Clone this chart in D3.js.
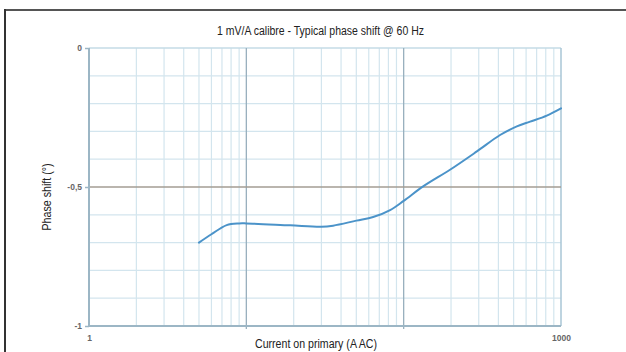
<!DOCTYPE html>
<html>
<head>
<meta charset="utf-8">
<script src="https://cdn.jsdelivr.net/npm/d3@7"></script>
<style>
html,body{margin:0;padding:0;background:#fff;}
svg{display:block;}
</style>
</head>
<body>
<svg id="chart" width="626" height="352"></svg>
<script>
const title = "1 mV/A calibre - Typical phase shift @ 60 Hz";
const xLabel = "Current on primary (A AC)";
const yLabel = "Phase shift (°)";
const current = [5, 6, 7.5, 9, 10, 19, 30, 35.6, 50, 64, 82, 100, 133, 197, 292, 410, 524, 636, 812, 1000];
const phase = [-0.70, -0.67, -0.637, -0.631, -0.631, -0.638, -0.643, -0.639, -0.621, -0.608, -0.583, -0.55, -0.498, -0.438, -0.372, -0.313, -0.282, -0.265, -0.243, -0.217];
const yTickValues = [0, -0.5, -1];
const yTickLabels = ["0", "-0,5", "-1"];
const xTickValues = [1, 1000];
const xTickLabels = ["1", "1000"];

const svg = d3.select("#chart");
const m = {left: 89, right: 561, top: 48, bottom: 326};
const x = d3.scaleLog().domain([1, 1000]).range([m.left, m.right]);
const y = d3.scaleLinear().domain([-1, 0]).range([m.bottom, m.top]);

// outer frame
svg.append("line").attr("x1", 4).attr("x2", 626).attr("y1", 10).attr("y2", 10)
  .attr("stroke", "#555").attr("stroke-width", 2);
svg.append("line").attr("x1", 5).attr("x2", 5).attr("y1", 9).attr("y2", 352)
  .attr("stroke", "#333").attr("stroke-width", 2);

// minor grid
const minorX = [];
for (let d = 1; d < 1000; d *= 10) for (let k = 2; k <= 9; k++) minorX.push(d * k);
const minorY = d3.range(-0.9, 0, 0.1).filter(v => Math.abs(v + 0.5) > 1e-6);
const g = svg.append("g");
g.selectAll(".mx").data(minorX).join("line")
  .attr("x1", d => x(d)).attr("x2", d => x(d)).attr("y1", m.top).attr("y2", m.bottom)
  .attr("stroke", "#d3e5ee").attr("stroke-width", 1.2);
g.selectAll(".my").data(minorY).join("line")
  .attr("x1", m.left).attr("x2", m.right).attr("y1", d => y(d)).attr("y2", d => y(d))
  .attr("stroke", "#d3e5ee").attr("stroke-width", 1.2);
g.append("line").attr("x1", m.left).attr("x2", m.right).attr("y1", y(0)).attr("y2", y(0))
  .attr("stroke", "#c5dbe6").attr("stroke-width", 1.5);
g.append("line").attr("x1", x(1000)).attr("x2", x(1000)).attr("y1", m.top).attr("y2", m.bottom)
  .attr("stroke", "#a9c6d6").attr("stroke-width", 1.5);
// major grid
g.selectAll(".Mx").data([10, 100]).join("line")
  .attr("x1", d => x(d)).attr("x2", d => x(d)).attr("y1", m.top).attr("y2", m.bottom + 3)
  .attr("stroke", "#98afbd").attr("stroke-width", 1.3);
g.append("line").attr("x1", m.left).attr("x2", m.right).attr("y1", y(-0.5)).attr("y2", y(-0.5))
  .attr("stroke", "#a39c93").attr("stroke-width", 1.3);

// axes
g.append("line").attr("x1", m.left).attr("x2", m.left).attr("y1", m.top).attr("y2", m.bottom)
  .attr("stroke", "#9cb6c5").attr("stroke-width", 2);
g.append("line").attr("x1", m.left).attr("x2", m.right).attr("y1", m.bottom).attr("y2", m.bottom)
  .attr("stroke", "#9cb6c5").attr("stroke-width", 2);

// y ticks
const yAxis = d3.axisLeft(y).tickValues(yTickValues).tickSize(4).tickPadding(3)
  .tickFormat((d, i) => yTickLabels[i]);
const ya = svg.append("g").attr("transform", `translate(${m.left},0)`).call(yAxis);
ya.select(".domain").remove();
ya.selectAll(".tick line").attr("stroke", "#9cb6c5").attr("stroke-width", 1.5);
ya.selectAll(".tick text").attr("fill", "#666").attr("font-family", "Liberation Sans, Arial, sans-serif")
  .attr("font-size", 8.5).attr("font-weight", "bold");

// x ticks
const xAxis = d3.axisBottom(x).tickValues(xTickValues).tickSize(0).tickPadding(9)
  .tickFormat((d, i) => xTickLabels[i]);
const xa = svg.append("g").attr("transform", `translate(0,${m.bottom})`).call(xAxis);
xa.select(".domain").remove();
xa.selectAll(".tick text").attr("fill", "#666").attr("font-family", "Liberation Sans, Arial, sans-serif")
  .attr("font-size", 8.5).attr("font-weight", "bold");

// curve
const data = current.map((c, i) => [c, phase[i]]);
svg.append("path").datum(data)
  .attr("fill", "none").attr("stroke", "#4b93c9").attr("stroke-width", 2)
  .attr("stroke-linejoin", "round").attr("stroke-linecap", "round")
  .attr("d", d3.line().x(d => x(d[0])).y(d => y(d[1])).curve(d3.curveCatmullRom.alpha(0.5)));

// titles
const font = "'Liberation Sans Narrow', 'Liberation Sans', Arial, sans-serif";
svg.append("text").attr("x", 320.5).attr("y", 35).attr("text-anchor", "middle")
  .attr("font-family", font).attr("font-size", 12).attr("fill", "#222")
  .attr("textLength", 207).attr("lengthAdjust", "spacingAndGlyphs").text(title);
svg.append("text").attr("x", 316).attr("y", 348).attr("text-anchor", "middle")
  .attr("font-family", font).attr("font-size", 12).attr("fill", "#222")
  .attr("textLength", 122).attr("lengthAdjust", "spacingAndGlyphs").text(xLabel);
svg.append("text").attr("transform", "translate(51,197) rotate(-90)").attr("text-anchor", "middle")
  .attr("font-family", font).attr("font-size", 12).attr("fill", "#222")
  .attr("textLength", 67).attr("lengthAdjust", "spacingAndGlyphs").text(yLabel);
</script>
</body>
</html>
